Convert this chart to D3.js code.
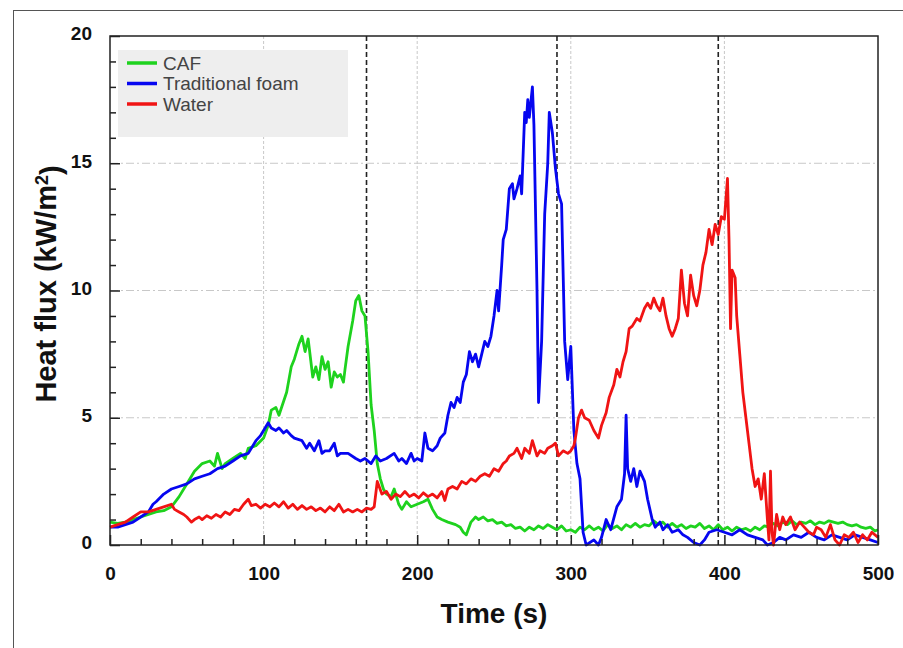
<!DOCTYPE html>
<html>
<head>
<meta charset="utf-8">
<script src="https://cdn.jsdelivr.net/npm/d3@7"></script>
<style>
  body { margin: 0; background: #fff; }
  svg { display: block; font-family: "Liberation Sans", Arial, sans-serif; }
</style>
</head>
<body>
<svg width="903" height="648"></svg>
<script>
// [time (s), heat flux (kW/m2)]
const caf = [[0,0.9],[5,0.85],[10,0.9],[15,1.0],[20,1.1],[25,1.2],[30,1.3],[35,1.35],[40,1.5],[45,1.9],[50,2.4],[55,2.9],[60,3.2],[65,3.3],[68,3.1],[70,3.6],[73,3.0],[75,3.2],[80,3.4],[85,3.6],[88,3.4],[90,3.8],[95,3.9],[100,4.2],[103,4.7],[105,5.3],[108,5.4],[110,5.1],[115,6.0],[118,7.0],[120,7.3],[123,7.9],[125,8.2],[127,7.6],[129,8.1],[132,6.6],[134,7.0],[136,6.5],[138,7.4],[140,6.9],[142,7.2],[144,6.2],[146,6.8],[148,6.6],[150,6.7],[152,6.4],[153,6.9],[155,7.8],[158,8.8],[160,9.6],[162,9.8],[164,9.2],[166,9.0],[168,7.6],[170,5.5],[172,4.5],[174,3.2],[176,2.6],[178,2.2],[180,2.0],[183,1.9],[185,2.2],[188,1.6],[190,1.4],[193,1.7],[196,1.5],[200,1.6],[204,1.7],[207,1.8],[210,1.4],[213,1.1],[216,1.0],[220,0.9],[225,0.8],[228,0.7],[230,0.5],[232,0.4],[235,0.9],[238,1.1],[240,1.0],[243,1.1],[246,0.95],[249,1.0],[252,0.85],[255,0.9],[258,0.75],[261,0.8],[264,0.65],[267,0.7],[270,0.55],[273,0.7],[276,0.6],[279,0.75],[282,0.65],[285,0.8],[288,0.7],[291,0.6],[294,0.75],[297,0.55],[300,0.6],[303,0.5],[306,0.7],[309,0.6],[312,0.75],[315,0.6],[318,0.7],[321,0.55],[324,0.8],[327,0.65],[330,0.75],[333,0.6],[336,0.8],[339,0.7],[342,0.85],[345,0.7],[348,0.8],[351,0.75],[354,0.95],[357,0.8],[360,0.9],[363,0.7],[366,0.85],[369,0.7],[372,0.8],[375,0.65],[378,0.75],[381,0.7],[384,0.85],[387,0.65],[390,0.75],[393,0.6],[396,0.8],[399,0.6],[402,0.7],[405,0.55],[408,0.7],[411,0.6],[414,0.65],[417,0.55],[420,0.7],[423,0.6],[426,0.75],[429,0.7],[432,0.85],[435,0.75],[438,0.9],[441,0.8],[444,0.95],[447,0.8],[450,0.9],[453,0.85],[456,0.95],[459,0.8],[462,0.9],[465,0.85],[468,0.95],[471,0.9],[474,0.85],[477,0.9],[480,0.8],[483,0.75],[486,0.8],[489,0.7],[492,0.65],[495,0.7],[498,0.55],[500,0.6]]

const foam = [[0,0.7],[5,0.7],[10,0.8],[15,0.9],[20,1.1],[25,1.3],[28,1.6],[30,1.7],[35,2.0],[40,2.2],[45,2.3],[50,2.4],[55,2.6],[60,2.7],[65,2.8],[70,3.0],[75,3.1],[80,3.3],[85,3.5],[90,3.6],[95,4.1],[98,4.3],[100,4.5],[103,4.8],[105,4.6],[108,4.5],[110,4.6],[113,4.4],[115,4.5],[118,4.3],[120,4.2],[125,4.1],[128,3.8],[130,4.0],[133,3.7],[136,4.1],[138,3.6],[140,3.7],[143,3.7],[146,4.0],[148,3.5],[150,3.6],[155,3.6],[160,3.4],[163,3.3],[166,3.4],[170,3.2],[173,3.5],[176,3.3],[180,3.4],[185,3.6],[188,3.3],[190,3.4],[193,3.2],[196,3.6],[198,3.3],[200,3.4],[203,3.3],[205,4.4],[207,3.8],[210,3.7],[213,3.9],[215,4.2],[218,4.4],[220,5.1],[222,5.6],[224,5.4],[226,5.8],[228,5.6],[230,6.4],[232,6.7],[234,7.6],[236,7.2],[238,7.5],[240,7.0],[242,7.5],[244,8.0],[246,7.8],[248,8.2],[250,9.0],[252,10.0],[253,9.2],[255,11.0],[256,12.0],[258,12.4],[260,14.0],[262,14.2],[263,13.6],[265,14.0],[267,14.5],[268,13.8],[270,17.0],[271,16.6],[272,17.5],[273,16.8],[275,18.0],[276,16.5],[278,10.0],[279,5.6],[281,8.0],[283,13.0],[285,15.0],[286,17.0],[288,16.2],[290,14.8],[292,13.8],[294,13.4],[296,8.0],[298,6.5],[300,7.8],[302,4.5],[304,3.2],[306,2.6],[308,0.5],[310,0.0],[315,0.2],[318,0.0],[320,0.3],[323,1.0],[326,0.6],[330,1.5],[333,1.8],[335,2.8],[336,5.1],[337,3.0],[339,2.5],[341,3.0],[343,2.3],[345,2.9],[348,2.5],[350,1.8],[353,1.0],[355,0.7],[358,0.9],[360,0.6],[363,0.8],[366,0.5],[370,0.6],[373,0.4],[376,0.3],[380,0.1],[384,0.0],[387,0.2],[390,0.5],[395,0.6],[400,0.5],[405,0.4],[410,0.6],[415,0.4],[420,0.3],[425,0.2],[428,0.0],[432,0.1],[436,0.3],[440,0.2],[445,0.4],[450,0.3],[455,0.5],[460,0.3],[465,0.2],[470,0.4],[475,0.3],[480,0.2],[485,0.4],[490,0.3],[495,0.2],[500,0.1]]

const water = [[0,0.7],[5,0.8],[10,0.9],[15,1.1],[20,1.3],[25,1.3],[30,1.4],[35,1.5],[40,1.6],[42,1.4],[45,1.3],[48,1.2],[50,1.1],[53,0.9],[55,1.0],[58,1.1],[60,1.0],[63,1.15],[66,1.05],[69,1.2],[72,1.1],[75,1.3],[78,1.2],[81,1.4],[84,1.35],[87,1.6],[90,1.8],[92,1.55],[95,1.6],[98,1.45],[101,1.6],[104,1.5],[107,1.65],[110,1.5],[113,1.7],[116,1.45],[119,1.6],[122,1.4],[125,1.55],[128,1.4],[131,1.5],[134,1.35],[137,1.45],[140,1.3],[143,1.5],[146,1.35],[149,1.6],[152,1.3],[155,1.4],[158,1.3],[161,1.4],[164,1.3],[167,1.45],[170,1.4],[172,1.5],[174,2.5],[177,2.0],[180,2.1],[183,1.8],[186,2.0],[189,1.9],[192,2.1],[195,1.9],[198,2.0],[201,1.85],[204,2.05],[207,1.9],[210,2.0],[213,1.85],[216,2.1],[218,1.75],[220,2.2],[223,2.3],[226,2.2],[229,2.5],[232,2.4],[235,2.6],[238,2.5],[241,2.7],[244,2.8],[247,2.7],[250,3.0],[253,2.9],[256,3.2],[258,3.3],[260,3.5],[263,3.6],[265,3.8],[268,3.4],[270,3.8],[273,3.6],[275,4.1],[278,3.5],[280,3.7],[283,3.6],[285,3.8],[288,3.9],[290,4.0],[292,3.5],[295,3.7],[298,3.6],[300,3.7],[302,3.9],[303,4.2],[305,5.0],[307,5.3],[309,5.0],[312,4.9],[315,4.5],[318,4.2],[320,4.7],[323,5.2],[325,5.8],[328,6.3],[330,6.9],[332,6.6],[334,7.2],[336,7.6],[338,8.5],[340,8.6],[343,8.9],[345,8.8],[348,9.3],[350,9.5],[352,9.3],[354,9.7],[356,9.4],[358,9.2],[360,9.7],[362,9.0],[364,8.5],[366,8.2],[368,8.5],[370,8.9],[372,10.8],[374,9.5],[376,9.0],[378,10.6],[380,9.8],[382,9.4],[384,10.0],[386,11.0],[388,11.5],[390,12.4],[392,11.8],[394,12.6],[396,12.2],[398,12.9],[400,12.8],[402,14.4],[403,12.0],[404,8.5],[405,10.8],[407,10.5],[408,9.0],[410,7.5],[412,6.0],[414,5.0],[416,4.0],[418,3.0],[420,2.3],[422,2.6],[424,1.8],[426,2.8],[428,1.0],[429,0.2],[430,2.9],[431,0.5],[432,0.0],[434,1.2],[436,0.6],[438,1.1],[440,0.8],[443,1.1],[446,0.6],[449,0.9],[452,0.7],[455,0.5],[458,0.4],[460,0.7],[463,0.6],[466,0.3],[469,0.8],[472,0.2],[475,0.0],[478,0.4],[481,0.3],[484,0.5],[487,0.1],[490,0.4],[493,0.2],[496,0.5],[500,0.3]]

const seriesNames = ["CAF", "Traditional foam", "Water"]
const seriesColors = ["#1ed21e", "#0606f0", "#f01414"]
const markerTimes = [167, 291, 396]   // black dashed lines
const xTicks = [0, 100, 200, 300, 400, 500]
const yTicks = [0, 5, 10, 15, 20]

const svg = d3.select("svg")
const pLeft = 110, pRight = 878, pTop = 36, pBottom = 545

const x = d3.scaleLinear().domain([0, 500]).range([pLeft, pRight])
const y = d3.scaleLinear().domain([0, 20]).range([pBottom, pTop])

// outer frame
svg.append("rect").attr("x", 13.5).attr("y", 10.5).attr("width", 900).attr("height", 660)
	.style("fill", "none").style("stroke", "#555").style("stroke-width", 1)

// grid
svg.append("g").selectAll("line").data([100, 200, 300, 400]).enter().append("line")
	.attr("x1", d => x(d)).attr("x2", d => x(d)).attr("y1", pTop).attr("y2", pBottom)
	.style("stroke", "#c8c8c8").style("stroke-width", 1).style("stroke-dasharray", "3,2")
svg.append("g").selectAll("line").data([5, 10, 15]).enter().append("line")
	.attr("x1", pLeft).attr("x2", pRight).attr("y1", d => y(d)).attr("y2", d => y(d))
	.style("stroke", "#c8c8c8").style("stroke-width", 1).style("stroke-dasharray", "8,3,2,3")

// legend box
const leg = svg.append("g")
leg.append("rect").attr("x", 118).attr("y", 50).attr("width", 230).attr("height", 87).style("fill", "#eeeeee")
seriesNames.forEach((n, i) => {
	const yy = 63 + i * 20.5
	leg.append("line").attr("x1", 127).attr("x2", 157).attr("y1", yy).attr("y2", yy)
		.style("stroke", seriesColors[i]).style("stroke-width", 3.5)
	leg.append("text").attr("x", 163).attr("y", yy + 6.5).text(n)
		.style("font-size", "19px").style("fill", "#444")
})

// dashed markers
svg.append("g").selectAll("line").data(markerTimes).enter().append("line")
	.attr("x1", d => x(d)).attr("x2", d => x(d)).attr("y1", pTop).attr("y2", pBottom)
	.style("stroke", "#222").style("stroke-width", 1.6).style("stroke-dasharray", "5,3")

// series
const line = d3.line().x(d => x(d[0])).y(d => y(d[1]))
const plotG = svg.append("g")
;[caf, foam, water].forEach((s, i) => {
	plotG.append("path").datum(s).attr("d", line)
		.style("fill", "none").style("stroke", seriesColors[i]).style("stroke-width", 2.8)
		.style("stroke-linejoin", "round")
})

// plot box
svg.append("rect").attr("x", pLeft).attr("y", pTop).attr("width", pRight - pLeft).attr("height", pBottom - pTop)
	.style("fill", "none").style("stroke", "#222").style("stroke-width", 1.5)

// axes with inward ticks
const xAxis = d3.axisBottom(x).tickValues(xTicks).tickSize(-10).tickPadding(22).tickFormat(d3.format("d"))
const xMinor = d3.axisBottom(x).tickValues(d3.range(20, 500, 20).filter(d => d % 100)).tickSize(-6).tickFormat("")
const yAxis = d3.axisLeft(y).tickValues(yTicks).tickSize(-10).tickPadding(18).tickFormat(d3.format("d"))
const yMinor = d3.axisLeft(y).tickValues(d3.range(1, 20).filter(d => d % 5)).tickSize(-6).tickFormat("")

svg.append("g").attr("id", "xAxisG").attr("transform", `translate(0,${pBottom})`).call(xAxis)
svg.append("g").attr("transform", `translate(0,${pBottom})`).call(xMinor)
svg.append("g").attr("id", "yAxisG").attr("transform", `translate(${pLeft},0)`).call(yAxis)
svg.append("g").attr("transform", `translate(${pLeft},0)`).call(yMinor)

svg.selectAll(".domain").remove()
svg.selectAll(".tick line").style("stroke", "#222").style("stroke-width", 1.5)
svg.selectAll(".tick text").style("font-size", "19px").style("font-weight", "bold")
	.style("font-family", "'Liberation Sans', Arial, sans-serif").style("fill", "#111")
d3.select("#yAxisG").selectAll(".tick text").attr("dy", "0.2em")

// axis titles
svg.append("text").attr("x", 494).attr("y", 623).attr("text-anchor", "middle")
	.style("font-size", "28px").style("font-weight", "bold").style("fill", "#111").text("Time (s)")
const yt = svg.append("text").attr("transform", "translate(56,284) rotate(-90)").attr("text-anchor", "middle")
	.style("font-size", "29px").style("font-weight", "bold").style("fill", "#111")
yt.append("tspan").text("Heat flux (kW/m")
yt.append("tspan").attr("dy", "-0.45em").style("font-size", "18px").text("2")
yt.append("tspan").attr("dy", "0.45em").text(")")
</script>
</body>
</html>
